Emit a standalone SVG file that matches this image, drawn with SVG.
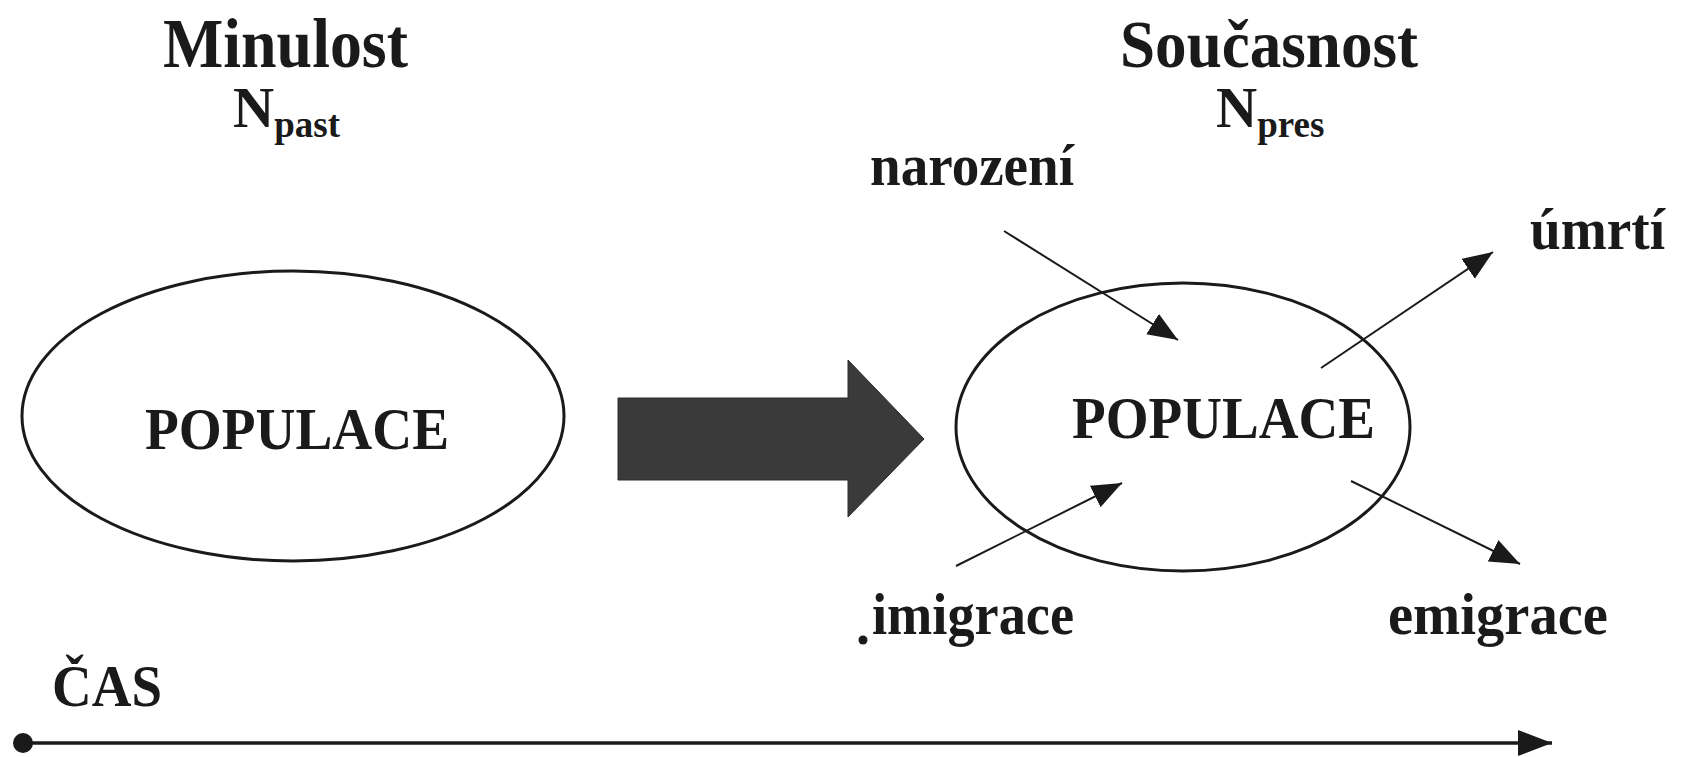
<svg xmlns="http://www.w3.org/2000/svg" width="1684" height="757" viewBox="0 0 1684 757">
<style>
.t{font-family:"Liberation Serif","Times New Roman",serif;font-weight:bold;fill:#1a1a1a}
.lbl{font-size:60px}
.ell{fill:none;stroke:#1a1a1a;stroke-width:3}
.con{stroke:#1a1a1a;stroke-width:2;fill:none}
</style>
<defs>
<marker id="ah" markerUnits="userSpaceOnUse" markerWidth="32" markerHeight="26" refX="30" refY="12" orient="auto">
<path d="M0,0 L30,12 L0,24 Z" fill="#1a1a1a"/>
</marker>
<marker id="ah2" markerUnits="userSpaceOnUse" markerWidth="36" markerHeight="28" refX="34" refY="13" orient="auto">
<path d="M0,0 L34,13 L0,26 Z" fill="#1a1a1a"/>
</marker>
</defs>
<rect width="1684" height="757" fill="#ffffff"/>
<g id="title-past">
<text class="t" x="163" y="67" font-size="69" textLength="245" lengthAdjust="spacingAndGlyphs">Minulost</text>
<text class="t" x="233" y="127" font-size="57">N<tspan font-size="37" dy="10">past</tspan></text>
</g>
<g id="title-present">
<text class="t" x="1120" y="67" font-size="68" textLength="298" lengthAdjust="spacingAndGlyphs">Současnost</text>
<text class="t" x="1216" y="127" font-size="57">N<tspan font-size="37" dy="10">pres</tspan></text>
</g>
<g id="pop-past">
<ellipse class="ell" cx="293" cy="416" rx="271" ry="145"/>
<text class="t lbl" x="145" y="449" textLength="304" lengthAdjust="spacingAndGlyphs">POPULACE</text>
</g>
<g id="big-arrow">
<path d="M618,398 L848,398 L848,360 L924,439 L848,517 L848,480 L618,480 Z" fill="#3a3a3a" stroke="#2a2a2a" stroke-width="1"/>
</g>
<g id="pop-present">
<ellipse class="ell" cx="1183" cy="427" rx="227" ry="144"/>
<text class="t lbl" x="1072" y="438" textLength="303" lengthAdjust="spacingAndGlyphs">POPULACE</text>
</g>
<g id="label-narozeni"><text class="t lbl" x="870" y="185" textLength="204" lengthAdjust="spacingAndGlyphs">narození</text></g>
<g id="label-umrti"><text class="t lbl" x="1530" y="249" textLength="135" lengthAdjust="spacingAndGlyphs">úmrtí</text></g>
<g id="label-imigrace"><circle cx="863" cy="640" r="4.5" fill="#1a1a1a"/><text class="t lbl" x="872" y="634" textLength="202" lengthAdjust="spacingAndGlyphs">imigrace</text></g>
<g id="label-emigrace"><text class="t lbl" x="1388" y="634" textLength="220" lengthAdjust="spacingAndGlyphs">emigrace</text></g>
<g id="label-cas"><text class="t lbl" x="52" y="706" textLength="110" lengthAdjust="spacingAndGlyphs">ČAS</text></g>
<g id="connectors">
<line class="con" x1="1004" y1="231" x2="1178" y2="340" marker-end="url(#ah)"/>
<line class="con" x1="1321" y1="368" x2="1493" y2="252" marker-end="url(#ah)"/>
<line class="con" x1="956" y1="566" x2="1122" y2="483" marker-end="url(#ah)"/>
<line class="con" x1="1351" y1="481" x2="1520" y2="564" marker-end="url(#ah)"/>
<circle cx="23" cy="743" r="10" fill="#1a1a1a"/>
<line x1="23" y1="743" x2="1552" y2="743" stroke="#1a1a1a" stroke-width="3.5" marker-end="url(#ah2)"/>
</g>
</svg>
